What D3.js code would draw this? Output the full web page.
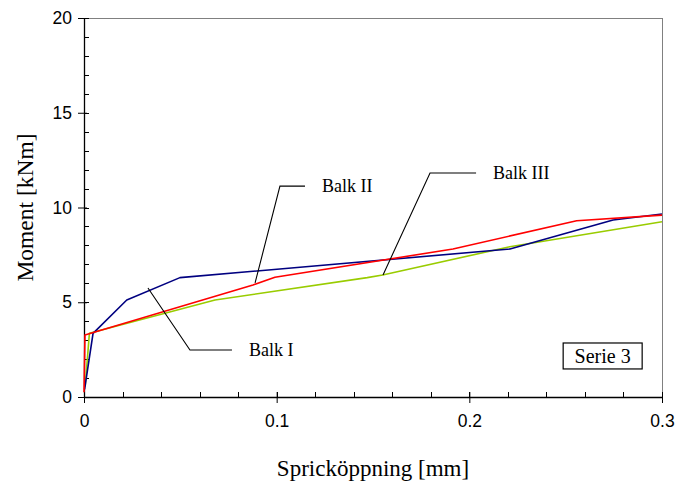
<!DOCTYPE html>
<html>
<head>
<meta charset="utf-8">
<script src="https://cdn.jsdelivr.net/npm/d3@7"></script>
<style>
  body { margin: 0; background: #fff; }
  svg { display: block; }
</style>
</head>
<body>
<svg id="chart" width="678" height="481"></svg>
<script>
// ---- data ----
const xTicks = [0, 0.1, 0.2, 0.3];
const yTicks = [0, 5, 10, 15, 20];

// Balk I (blue)
const balkI_x = [0.0003, 0.0047, 0.0222, 0.0498, 0.2211, 0.2746, 0.3];
const balkI_y = [0.4, 3.36, 5.12, 6.30, 7.81, 9.34, 9.66];
// Balk II (red)
const balkII_x = [0, 0.0005, 0.0877, 0.0991, 0.1915, 0.2557, 0.3];
const balkII_y = [0.25, 3.27, 5.91, 6.32, 7.81, 9.30, 9.60];
// Balk III (green)
const balkIII_x = [0.0006, 0.0028, 0.068, 0.147, 0.155, 0.221, 0.3];
const balkIII_y = [0.55, 3.36, 5.12, 6.30, 6.44, 7.93, 9.25];

const seriesNames = ["Balk I", "Balk II", "Balk III"];
const seriesColors = ["#000080", "#ff0000", "#99cc00"];

// annotation leader lines (data coords)
const leaderI = [[0.0332, 5.75], [0.055, 2.48], [0.0768, 2.48]];
const leaderII = [[0.0888, 6.02], [0.1017, 11.13], [0.1147, 11.13]];
const leaderIII = [[0.1552, 6.44], [0.1796, 11.82], [0.2035, 11.82]];

(function () {
// ---- layout ----
const svg = d3.select("#chart");
const mLeft = 84, mRight = 662, mTop = 18, mBottom = 397;
const x = d3.scaleLinear().domain([0, 0.3]).range([mLeft, mRight]);
const y = d3.scaleLinear().domain([0, 20]).range([mBottom, mTop]);

// frame (top & right grey)
svg.append("line").attr("x1", mLeft).attr("x2", mRight).attr("y1", mTop + 0.5).attr("y2", mTop + 0.5)
  .attr("stroke", "#808080").attr("stroke-width", 1);
svg.append("line").attr("x1", mRight + 0.5).attr("x2", mRight + 0.5).attr("y1", mTop).attr("y2", mBottom)
  .attr("stroke", "#808080").attr("stroke-width", 1);

// minor ticks
const xMinor = d3.range(0, 0.3001, 0.02);
const yMinor = d3.range(0, 20.001, 1);
svg.append("g").selectAll("line").data(xMinor).join("line")
  .attr("x1", d => Math.round(x(d)) + 0.5).attr("x2", d => Math.round(x(d)) + 0.5)
  .attr("y1", mBottom - 5).attr("y2", mBottom)
  .attr("stroke", "#000").attr("stroke-width", 1);
svg.append("g").selectAll("line").data(yMinor).join("line")
  .attr("y1", d => Math.round(y(d)) + 0.5).attr("y2", d => Math.round(y(d)) + 0.5)
  .attr("x1", mLeft).attr("x2", mLeft + 5)
  .attr("stroke", "#000").attr("stroke-width", 1);

// axes
const xAxis = d3.axisBottom(x).tickValues(xTicks).tickFormat(d => d === 0 ? "0" : d3.format(".1f")(d))
  .tickSizeInner(6).tickSizeOuter(0).tickPadding(12);
const gx = svg.append("g").attr("transform", `translate(0,${mBottom})`).call(xAxis);
gx.select(".domain").attr("stroke", "#000").attr("stroke-width", 1.3);
gx.selectAll(".tick line").attr("y1", -5).attr("stroke", "#000");
gx.selectAll("text").attr("font-family", "Liberation Sans, Arial, sans-serif")
  .attr("font-size", 17.5).attr("fill", "#000");

const yAxis = d3.axisLeft(y).tickValues(yTicks).tickFormat(d3.format("d"))
  .tickSizeInner(6).tickSizeOuter(0).tickPadding(6);
const gy = svg.append("g").attr("transform", `translate(${mLeft},0)`).call(yAxis);
gy.select(".domain").attr("stroke", "#000").attr("stroke-width", 1.3);
gy.selectAll(".tick line").attr("x2", -6).attr("x1", 3).attr("stroke", "#000");
gy.selectAll("text").attr("font-family", "Liberation Sans, Arial, sans-serif")
  .attr("font-size", 17.5).attr("fill", "#000");

// series
const series = [
  { name: seriesNames[0], xs: balkI_x, ys: balkI_y, color: seriesColors[0] },
  { name: seriesNames[1], xs: balkII_x, ys: balkII_y, color: seriesColors[1] },
  { name: seriesNames[2], xs: balkIII_x, ys: balkIII_y, color: seriesColors[2] }
];
const line = d3.line().x(d => x(d[0])).y(d => y(d[1]));
const drawOrder = [2, 0, 1];
drawOrder.forEach(i => {
  const s = series[i];
  svg.append("path")
    .datum(s.xs.map((v, k) => [v, s.ys[k]]))
    .attr("d", line)
    .attr("fill", "none")
    .attr("stroke", s.color)
    .attr("stroke-width", 1.6)
    .attr("stroke-linejoin", "round");
});

// leaders + labels
const leaders = [
  { pts: leaderI, label: seriesNames[0] },
  { pts: leaderII, label: seriesNames[1] },
  { pts: leaderIII, label: seriesNames[2] }
];
leaders.forEach(l => {
  svg.append("path").datum(l.pts).attr("d", line)
    .attr("fill", "none").attr("stroke", "#000").attr("stroke-width", 1.1);
  const last = l.pts[l.pts.length - 1];
  svg.append("text")
    .attr("x", x(last[0]) + 17).attr("y", y(last[1]) + 6)
    .attr("font-family", "Liberation Serif, Times New Roman, serif")
    .attr("font-size", 18).attr("fill", "#000")
    .text(l.label);
});

// Serie 3 box
const boxX0 = 0.2487, boxX1 = 0.2897, boxY0 = 2.85, boxY1 = 1.48;
svg.append("rect")
  .attr("x", x(boxX0)).attr("y", y(boxY0))
  .attr("width", x(boxX1) - x(boxX0)).attr("height", y(boxY1) - y(boxY0))
  .attr("fill", "#fff").attr("stroke", "#000").attr("stroke-width", 1.2);
svg.append("text")
  .attr("x", (x(boxX0) + x(boxX1)) / 2).attr("y", (y(boxY0) + y(boxY1)) / 2 + 7)
  .attr("text-anchor", "middle")
  .attr("font-family", "Liberation Serif, Times New Roman, serif")
  .attr("font-size", 20).attr("fill", "#000")
  .text("Serie 3");

// axis titles
svg.append("text")
  .attr("x", (mLeft + mRight) / 2).attr("y", 476)
  .attr("text-anchor", "middle")
  .attr("font-family", "Liberation Serif, Times New Roman, serif")
  .attr("font-size", 23).attr("fill", "#000")
  .text("Spricköppning [mm]");
svg.append("text")
  .attr("transform", `translate(33,${(mTop + mBottom) / 2}) rotate(-90)`)
  .attr("text-anchor", "middle")
  .attr("font-family", "Liberation Serif, Times New Roman, serif")
  .attr("font-size", 23.5).attr("fill", "#000")
  .text("Moment [kNm]");
})();
</script>
</body>
</html>
